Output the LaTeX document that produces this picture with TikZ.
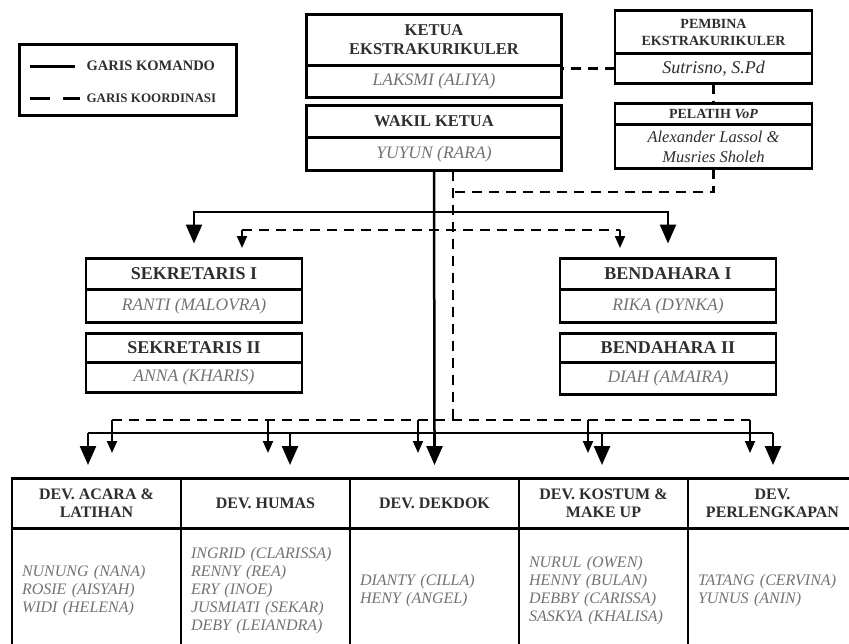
\documentclass[tikz,border=0pt]{standalone}
\usepackage{fontspec}
\setmainfont{Liberation Serif}
\usetikzlibrary{positioning,calc,arrows.meta}

\definecolor{tinta}{HTML}{2E2E2E}
\definecolor{abu}{HTML}{727272}

\tikzset{
  kotak/.style={draw=black, line width=2.8pt, inner sep=0pt, outer sep=0pt, align=center},
  judul/.style={kotak, text=tinta, font=\bfseries\fontsize{16.5}{19}\selectfont},
  nama/.style={kotak, text=abu, font=\itshape\fontsize{17.5}{19}\selectfont},
  komando/.style={line width=2.5pt},
  koordinasi/.style={line width=2.5pt, dash pattern=on 10pt off 7pt},
  panahbesar/.style={komando, -{Triangle[width=16pt,length=19pt]}},
  panahkecil/.style={line width=2pt, -{Triangle[width=10pt,length=12pt]}},
}

\begin{document}
\begin{tikzpicture}[x=1pt,y=-1pt]
  \useasboundingbox (0,0) rectangle (849,643);
  \clip (0,0) rectangle (849,643);

  % Keterangan garis
  \node[draw, line width=3pt, minimum width=217pt, minimum height=71pt] (ket) at (128,80) {};
  \coordinate (ka1) at (30,66); \coordinate (ka2) at (75,66);
  \coordinate (kb1) at (30,98); \coordinate (kb2) at (80,98);
  \draw[line width=3pt] (ka1) -- (ka2);
  \draw[line width=3pt, dash pattern=on 20pt off 13pt] (kb1) -- (kb2);
  \node[anchor=west, text=tinta, font=\bfseries\fontsize{14.5}{16}\selectfont] (tkom) at (83,66) {GARIS KOMANDO};
  \node[anchor=west, text=tinta, font=\bfseries\fontsize{13}{14}\selectfont] (tkoor) at (83,98) {GARIS KOORDINASI};

  % Ketua dan wakil
  \node[judul, minimum width=255pt, minimum height=51pt, anchor=north] (ketua) at (434,14.5) {KETUA\\EKSTRAKURIKULER};
  \node[nama, minimum width=255pt, minimum height=32pt, below=0pt of ketua] (ketuaN) {LAKSMI (ALIYA)};
  \node[judul, minimum width=255pt, minimum height=32pt, anchor=north] (wakil) at (434,105.5) {WAKIL KETUA};
  \node[nama, minimum width=255pt, minimum height=33pt, below=0pt of wakil] (wakilN) {YUYUN (RARA)};

  % Pembina dan pelatih
  \node[judul, font=\bfseries\fontsize{14}{17}\selectfont, minimum width=197pt, minimum height=43pt, anchor=north] (pembina) at (713.5,10.5) {PEMBINA\\EKSTRAKURIKULER};
  \node[nama, text=tinta, font=\itshape\fontsize{18}{20}\selectfont, minimum width=197pt, minimum height=30pt, below=0pt of pembina] (pembinaN) {Sutrisno, S.Pd};
  \node[judul, font=\bfseries\fontsize{14}{17}\selectfont, minimum width=197pt, minimum height=21pt, anchor=north] (pelatih) at (713.5,103.5) {PELATIH \textit{VoP}};
  \node[nama, text=tinta, font=\itshape\fontsize{16.5}{20}\selectfont, minimum width=197pt, minimum height=44pt, below=0pt of pelatih] (pelatihN) {Alexander Lassol \&\\Musries Sholeh};

  % Sekretaris dan bendahara
  \node[judul, font=\bfseries\fontsize{18}{20}\selectfont, minimum width=216pt, minimum height=31pt, anchor=north] (sek1) at (194,258.5) {SEKRETARIS I};
  \node[nama, minimum width=216pt, minimum height=33pt, below=0pt of sek1] (sek1N) {RANTI (MALOVRA)};
  \node[judul, font=\bfseries\fontsize{18}{20}\selectfont, minimum width=216pt, minimum height=29pt, anchor=north] (sek2) at (194,333.5) {SEKRETARIS II};
  \node[nama, minimum width=216pt, minimum height=30pt, below=0pt of sek2] (sek2N) {ANNA (KHARIS)};
  \node[judul, font=\bfseries\fontsize{18}{20}\selectfont, minimum width=216pt, minimum height=31pt, anchor=north] (ben1) at (668,258.5) {BENDAHARA I};
  \node[nama, minimum width=216pt, minimum height=33pt, below=0pt of ben1] (ben1N) {RIKA (DYNKA)};
  \node[judul, font=\bfseries\fontsize{18}{20}\selectfont, minimum width=216pt, minimum height=29pt, anchor=north] (ben2) at (668,333.5) {BENDAHARA II};
  \node[nama, minimum width=216pt, minimum height=32pt, below=0pt of ben2] (ben2N) {DIAH (AMAIRA)};

  % Divisi
  \tikzset{
    kepala/.style={judul, font=\bfseries\fontsize{16}{18}\selectfont, minimum width=169pt, minimum height=50pt},
    isi/.style={nama, font=\itshape\fontsize{16}{18}\selectfont, text width=149pt, inner xsep=10pt, align=left, minimum height=124pt},
  }
  \node[kepala, anchor=north west] (hacara) at (12,478.5) {DEV. ACARA \&\\LATIHAN};
  \node[kepala, right=0pt of hacara] (hhumas) {DEV. HUMAS};
  \node[kepala, right=0pt of hhumas] (hdekdok) {DEV. DEKDOK};
  \node[kepala, right=0pt of hdekdok] (hkostum) {DEV. KOSTUM \&\\MAKE UP};
  \node[kepala, right=0pt of hkostum] (hperlengkapan) {DEV.\\PERLENGKAPAN};
  \node[isi, below=0pt of hacara] (bacara) {NUNUNG (NANA)\\ROSIE (AISYAH)\\WIDI (HELENA)};
  \node[isi, below=0pt of hhumas] (bhumas) {INGRID (CLARISSA)\\RENNY (REA)\\ERY (INOE)\\JUSMIATI (SEKAR)\\DEBY (LEIANDRA)};
  \node[isi, below=0pt of hdekdok] (bdekdok) {DIANTY (CILLA)\\HENY (ANGEL)};
  \node[isi, below=0pt of hkostum] (bkostum) {NURUL (OWEN)\\HENNY (BULAN)\\DEBBY (CARISSA)\\SASKYA (KHALISA)};
  \node[isi, below=0pt of hperlengkapan] (bperlengkapan) {TATANG (CERVINA)\\YUNUS (ANIN)};

  % Garis komando
  \coordinate (cabang) at ($(wakilN.south)+(0,41.5)$);
  \draw[panahbesar, shorten >=15pt] (cabang) -| (sek1.north);
  \draw[panahbesar, shorten >=15pt] (cabang) -| (ben1.north);
  \foreach \n/\s in {acara/-8.5, humas/24.5, dekdok/0, kostum/-1.5, perlengkapan/0.5}
    \coordinate (k\n) at ($(h\n.north)+(\s,-45.5)$);
  \draw[komando] (wakilN.south) -- (kdekdok);
  \draw[komando] (kacara) -- (kperlengkapan);
  \foreach \n in {acara, humas, dekdok, kostum, perlengkapan}
    \draw[panahbesar, shorten >=13.5pt] (k\n) -- (k\n |- h\n.north);

  % Garis koordinasi
  \draw[koordinasi] (pembinaN.west) -- (pembinaN.west -| ketuaN.east);
  \draw[koordinasi] (pembinaN.south) -- (pelatih.north);
  \coordinate (koor) at ($(wakilN.south)+(19,0)$);
  \coordinate (belok) at ($(pelatihN.south)+(0,23.5)$);
  \draw[koordinasi] (pelatihN.south) -- (belok) -- (belok -| koor);
  \coordinate (dsek) at ($(sek1.north)+(48,-28.5)$);
  \coordinate (dben) at ($(ben1.north)+(-48,-28.5)$);
  \draw[koordinasi] (dsek) -- (dben);
  \draw[panahkecil, shorten >=10.5pt] (dsek) -- (dsek |- sek1.north);
  \draw[panahkecil, shorten >=10.5pt] (dben) -- (dben |- ben1.north);
  \foreach \n/\d in {acara/15.5, humas/2.5, dekdok/-16.5, kostum/-15.5, perlengkapan/-22.5}
    \coordinate (d\n) at ($(h\n.north)+(\d,-58.5)$);
  \draw[koordinasi] (koor) -- (koor |- dacara);
  \draw[koordinasi] (dacara) -- (dperlengkapan);
  \foreach \n in {acara, humas, dekdok, kostum, perlengkapan}
    \draw[panahkecil, shorten >=25.5pt] (d\n) -- (d\n |- h\n.north);
\end{tikzpicture}
\end{document}
